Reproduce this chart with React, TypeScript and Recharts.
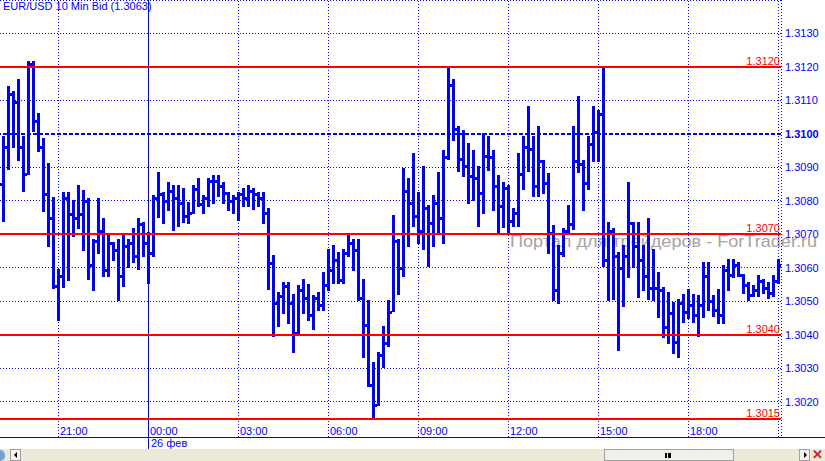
import React from "react";
import {
  Bar,
  CartesianGrid,
  ComposedChart,
  ReferenceLine,
  XAxis,
  YAxis,
} from "recharts";

// EUR/USD 10 min bars, values are pips above 1.3000
const BASE = 1.3;
const PIP = 0.0001;
const FIRST_BAR = -29; // bar index 0 = 00:00, 26 фев

// prettier-ignore
const openPips = [
  85, 96, 112, 109.5, 96, 88, 121, 104, 96, 82,
  75, 54.5, 57.5, 81, 76, 75, 76, 80, 61, 68,
  71, 59.5, 67.5, 65.5, 57.5, 66.5, 67.5, 63.5, 73, 67.5,
  64.5, 81, 82, 80, 83, 81, 79.5, 75.5, 76.5, 83.5,
  79, 81, 86, 86, 84.5, 82.5, 80, 81, 82, 81,
  83, 82, 81, 76.5, 61.5, 49.5, 51.5, 54.5, 49.5, 40.5,
  53.5, 51, 46, 51, 49, 55, 59.5, 62.5, 56.5, 64.5,
  67.5, 65.5, 51, 43, 25, 19, 34, 37.5, 47, 68,
  60, 83, 79.5, 75.5, 71, 78, 73.5, 79.5, 75, 93,
  114.5, 101.5, 92.5, 90.5, 87.5, 87, 82.5, 93.5, 93, 84.5,
  78.5, 84, 74, 76.5, 88, 96, 95.5, 84.5, 92, 85.5,
  70.5, 53.5, 64.5, 71, 73, 92, 91, 85.5, 97, 100.5,
  106, 62.5, 71, 63.5, 60, 63.5, 73.5, 66.5, 62.5, 57.5,
  54, 54, 53.5, 42.5, 46.5, 38, 49.5, 47, 49, 46,
  49, 57.5, 50, 47.5, 46, 59.5, 58, 61, 58, 55,
  52, 53.5, 56, 54, 52.5, 56,
];
// prettier-ignore
const highPips = [
  99, 114, 112.5, 116, 99, 121.5, 121.5, 106, 98.5, 91,
  81, 59.5, 82.5, 82.5, 80, 84.5, 83, 80.5, 68.5, 80.5,
  74.5, 69.5, 67.5, 68.5, 69.5, 68.5, 71.5, 74.5, 73.5, 70.5,
  81.5, 88.5, 82.5, 85.5, 84.5, 84.5, 83.5, 79.5, 84.5, 86.5,
  81.5, 86.5, 87.5, 87.5, 85.5, 82.5, 81.5, 82.5, 83.5, 84.5,
  83.5, 82.5, 82.5, 77.5, 63.5, 52.5, 55.5, 55.5, 52, 54.5,
  56.5, 55, 51.5, 52.5, 58.5, 65.5, 66.5, 64.5, 65.5, 70,
  68.5, 68.5, 56.5, 50, 31.5, 34.5, 42.5, 50, 75.5, 68.5,
  89.5, 86.5, 94, 82.5, 90, 78.5, 81.5, 88.5, 95, 119.5,
  116, 102, 101, 97, 95, 90, 100, 99, 95, 87.5,
  85.5, 84.5, 77.5, 94, 99, 108, 99, 102, 92, 88,
  72.5, 66.5, 71.5, 78.5, 102, 111, 92, 99, 108, 107,
  120, 73.5, 71.5, 64.5, 66.5, 85.5, 73.5, 73.5, 66.5, 74.5,
  65.5, 58.5, 54, 52.5, 49.5, 50.5, 52, 53.5, 52, 51.5,
  61.5, 61.5, 51.5, 53.5, 60.5, 62.5, 62.5, 61.5, 58, 55.5,
  54.5, 57.5, 56.5, 55.5, 57.5, 62.5,
];
// prettier-ignore
const lowPips = [
  74, 89.5, 96, 92, 83, 88, 101, 95, 77, 66.5,
  54, 44.5, 54.5, 56.5, 69.5, 72, 65.5, 56.5, 53.5, 64.5,
  57.5, 57.5, 62.5, 50.5, 54.5, 60.5, 61.5, 59.5, 63.5, 55.5,
  63.5, 75.5, 73.5, 77.5, 71.5, 72.5, 73.5, 73.5, 76.5, 78.5,
  76.5, 78.5, 79.5, 81.5, 79.5, 77.5, 76.5, 74.5, 78.5, 78.5,
  77.5, 78.5, 73.5, 53.5, 39.5, 42.5, 46.5, 43.5, 35, 40.5,
  46.5, 44.5, 41.5, 47.5, 47.5, 53.5, 55.5, 55.5, 55.5, 63.5,
  59.5, 50.5, 33.5, 24.5, 15, 19, 30.5, 36.5, 47, 52.5,
  57.5, 66.5, 72.5, 67.5, 65.5, 60.5, 66.5, 70.5, 67.5, 92.5,
  98, 89, 87.5, 79.5, 80.5, 72.5, 76.5, 89, 77.5, 70.5,
  72.5, 70.5, 72.5, 72.5, 83.5, 89, 81.5, 81.5, 82.5, 64.5,
  50.5, 49.5, 63.5, 70.5, 71.5, 88.5, 77.5, 83.5, 92, 92,
  60.5, 50.5, 50.5, 35.5, 48.5, 57.5, 60.5, 51.5, 53.5, 50.5,
  50.5, 45.5, 39.5, 37.5, 34.5, 33.5, 44, 45, 44, 39.5,
  45.5, 47.5, 45.5, 43.5, 43.5, 53.5, 57.5, 57.5, 52.5, 50.5,
  51.5, 51.5, 52.5, 51, 51.5, 55.5,
];
// prettier-ignore
const closePips = [
  96, 112, 109.5, 96, 88, 121, 104, 96, 82, 75,
  54.5, 57.5, 81, 76, 75, 76, 80, 61, 68, 71,
  59.5, 67.5, 65.5, 57.5, 66.5, 67.5, 63.5, 73, 67.5, 64.5,
  81, 82, 80, 83, 81, 79.5, 75.5, 76.5, 83.5, 79,
  81, 86, 86, 84.5, 82.5, 80, 81, 82, 81, 83,
  82, 81, 76.5, 61.5, 49.5, 51.5, 54.5, 49.5, 40.5, 53.5,
  51, 46, 51, 49, 55, 59.5, 62.5, 56.5, 64.5, 67.5,
  65.5, 51, 43, 25, 19, 34, 37.5, 47, 68, 60,
  83, 79.5, 75.5, 71, 78, 73.5, 79.5, 75, 93, 114.5,
  101.5, 92.5, 90.5, 87.5, 87, 82.5, 93.5, 93, 84.5, 78.5,
  84, 74, 76.5, 88, 96, 95.5, 84.5, 92, 85.5, 70.5,
  53.5, 64.5, 70.5, 73, 92, 91, 85.5, 97, 100.5, 106,
  62.5, 71, 63.5, 60, 63.5, 73.5, 66.5, 62.5, 57.5, 54,
  54, 53.5, 42.5, 46.5, 38, 49.5, 47, 49, 46, 49,
  57.5, 50, 47.5, 46, 59.5, 58, 61, 58, 55, 52,
  53.5, 56, 54, 52.5, 56, 61,
];

const priceTicks = [
  1.302, 1.303, 1.304, 1.305, 1.306, 1.307, 1.308, 1.309, 1.31, 1.311, 1.312,
  1.313,
];
const timeBars = [-18, 0, 18, 36, 54, 72, 90, 108, 126];
const timeLabels = ["21:00", "00:00", "03:00", "06:00", "09:00", "12:00", "15:00", "18:00", ""];
const redLevels = [1.312, 1.307, 1.304, 1.3015];
const blueLevel = 1.31;

const BLUE = "#0000ff";
const RED = "#ff0000";
const FONT = "'Liberation Sans', Arial, sans-serif";

const toPrice = (p: number) => +(BASE + p * PIP).toFixed(5);

const data = openPips.map((o, i) => {
  const h = toPrice(highPips[i]);
  const l = toPrice(lowPips[i]);
  return {
    k: FIRST_BAR + i,
    o: toPrice(o),
    h,
    l,
    c: toPrice(closePips[i]),
    range: [l, h],
  };
});

// classic OHLC bar: thick stem, open tick left, close tick right
const OhlcShape = (props: any) => {
  const { x, y, width, height, payload } = props;
  if (x == null || y == null) return null;
  const top = Math.min(y, y + height);
  const hgt = Math.abs(height);
  const cx = Math.floor(x + width / 2);
  const span = payload.h - payload.l;
  const py = (v: number) =>
    Math.round(span > 0 ? top + ((payload.h - v) / span) * hgt : top);
  const yo = py(payload.o);
  const yc = py(payload.c);
  return (
    <g fill={BLUE} shapeRendering="crispEdges">
      <rect x={cx - 1} y={Math.round(top) - 1} width={3} height={Math.max(3, Math.round(hgt) + 2)} />
      <rect x={cx - 3} y={yo - 1} width={2} height={3} />
      <rect x={cx + 2} y={yc - 1} width={2} height={3} />
    </g>
  );
};

const PriceTick = (props: any) => {
  const v = props.payload.value as number;
  return (
    <text
      x={props.x}
      y={props.y}
      dy={4}
      textAnchor="start"
      fontSize={11}
      fontFamily={FONT}
      fontWeight={Math.abs(v - blueLevel) < 1e-6 ? "bold" : "normal"}
      fill={BLUE}
    >
      {v.toFixed(4)}
    </text>
  );
};

const redLabel = (text: string) => (p: any) => {
  const vb = p.viewBox || {};
  return (
    <text x={vb.x + vb.width - 1} y={vb.y - 2} textAnchor="end" fontSize={11} fontFamily={FONT} fill={RED}>
      {text}
    </text>
  );
};

const timeLabel = (text: string) => (p: any) => {
  const vb = p.viewBox || {};
  return (
    <text x={Math.floor(vb.x) + 2} y={vb.y + vb.height - 2} fontSize={11} fontFamily={FONT} fill={BLUE}>
      {text}
    </text>
  );
};

export default function App() {
  return (
    <div style={{ position: "fixed", left: 0, top: 0, width: 825, height: 461, background: "#fff", overflow: "hidden" }}>
      {/* watermark, under the bars */}
      <svg width={825} height={461} style={{ position: "absolute", left: 0, top: 0 }}>
        <text x={510} y={247} fontSize={16} fontFamily={FONT} fill="#aaa1a1" textLength={307} lengthAdjust="spacingAndGlyphs">
          Портал для трейдеров - ForTrader.ru
        </text>
      </svg>

      <div style={{ position: "absolute", left: 0, top: 0 }}>
        <ComposedChart width={825} height={461} data={data} margin={{ top: 0, right: 0, bottom: 24, left: 0 }}>
          <CartesianGrid vertical={false} stroke={BLUE} strokeDasharray="1 2" shapeRendering="crispEdges" />
          {/* half-pixel offset keeps the 1px time lines sharp */}
          <XAxis hide type="number" dataKey="k" domain={[-29.7, 126.5]} allowDataOverflow />
          <YAxis
            orientation="right"
            width={44}
            domain={[1.300955, 1.314]}
            allowDataOverflow
            ticks={priceTicks}
            interval={0}
            tickLine={false}
            tickSize={0}
            tickMargin={4}
            axisLine={{ stroke: BLUE, strokeDasharray: "1 2", shapeRendering: "crispEdges" }}
            tick={<PriceTick />}
          />
          {timeBars.map((k, i) => (
            <ReferenceLine
              key={"t" + k}
              x={k}
              stroke={BLUE}
              strokeWidth={1}
              strokeDasharray={k === 0 ? undefined : "1 2"}
              label={timeLabel(timeLabels[i])}
            />
          ))}
          <Bar dataKey="range" barSize={2} isAnimationActive={false} shape={(p: any) => <OhlcShape {...p} />} />
          <ReferenceLine y={blueLevel} stroke={BLUE} strokeWidth={2} strokeDasharray="4 2" shapeRendering="crispEdges" />
          {redLevels.map((v) => (
            <ReferenceLine
              key={"r" + v}
              y={v}
              stroke={RED}
              strokeWidth={2}
              shapeRendering="crispEdges"
              label={redLabel(v.toFixed(4))}
            />
          ))}
        </ComposedChart>
      </div>

      {/* title */}
      <div style={{ position: "absolute", left: 3, top: 0, font: `11px ${FONT}`, color: BLUE, lineHeight: "13px", whiteSpace: "nowrap" }}>
        EUR/USD 10 Min Bid (1.3063)
      </div>

      {/* time axis line, day separator and date */}
      <div style={{ position: "absolute", left: 0, top: 437, width: 825, height: 1, background: BLUE }} />
      <div style={{ position: "absolute", left: 148, top: 437, width: 1, height: 12, background: BLUE }} />
      <div style={{ position: "absolute", left: 151, top: 437, font: `11px ${FONT}`, color: BLUE, lineHeight: "12px" }}>
        26 фев
      </div>

      {/* scroll strip */}
      <div style={{ position: "absolute", left: 0, top: 449, width: 825, height: 12, background: "#ece9d8" }} />
      <div style={{ position: "absolute", left: 0, top: 450, width: 5, height: 11, background: "#7aa0d8", borderRadius: "0 6px 6px 0" }} />
      <div style={{ position: "absolute", left: 10, top: 449, width: 11, height: 12, border: "1px solid #a0a0a0", boxSizing: "border-box", background: "#f4f3ee" }}>
        <div style={{ position: "absolute", left: 3, top: 2, width: 0, height: 0, borderTop: "3px solid transparent", borderBottom: "3px solid transparent", borderRight: "3px solid #000" }} />
      </div>
      <div style={{ position: "absolute", left: 604, top: 449, width: 130, height: 12, border: "1px solid #a0a0a0", boxSizing: "border-box", background: "#f0efe8" }}>
        <div style={{ position: "absolute", left: 60, top: 3, width: 6, height: 5, borderLeft: "2px solid #000", borderRight: "2px solid #000", boxSizing: "border-box" }}>
          <div style={{ position: "absolute", left: 1, top: 0, width: 2, height: 5, background: "#000" }} />
        </div>
      </div>
      <div style={{ position: "absolute", left: 799, top: 449, width: 11, height: 12, border: "1px solid #a0a0a0", boxSizing: "border-box", background: "#f4f3ee" }}>
        <div style={{ position: "absolute", left: 4, top: 2, width: 0, height: 0, borderTop: "3px solid transparent", borderBottom: "3px solid transparent", borderLeft: "3px solid #000" }} />
      </div>
      <div style={{ position: "absolute", left: 812, top: 448, font: `bold 13px ${FONT}`, color: "#d02020", lineHeight: "13px" }}>✕</div>
    </div>
  );
}
